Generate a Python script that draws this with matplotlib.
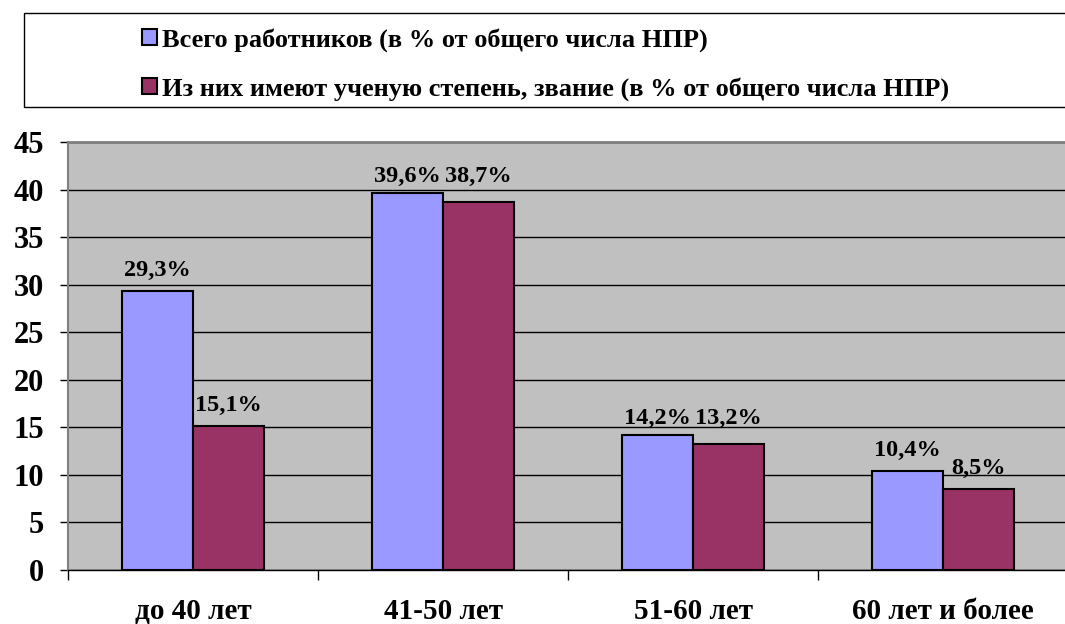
import numpy as np
import matplotlib
matplotlib.use("Agg")
import matplotlib.pyplot as plt
from matplotlib.patches import Rectangle, Patch

categories = ["до 40 лет", "41-50 лет", "51-60 лет", "60 лет и более"]
total_pct = [29.3, 39.6, 14.2, 10.4]
degree_pct = [15.1, 38.7, 13.2, 8.5]
series_names = ["Всего работников (в % от общего числа НПР)",
                "Из них имеют ученую степень, звание (в % от общего числа НПР)"]
yticks = [0, 5, 10, 15, 20, 25, 30, 35, 40, 45]

plt.rcParams['font.family'] = ['Liberation Serif', 'DejaVu Serif']
plt.rcParams['font.weight'] = 'bold'

fig = plt.figure(figsize=(10.65, 6.24), dpi=100)
ax = fig.add_axes([68 / 1065, 54 / 624, 1000 / 1065, 428 / 624])
ax.set_facecolor("#C0C0C0")

x = np.arange(len(categories))
w = 0.2857
c1, c2 = "#9999FF", "#993366"
b1 = ax.bar(x - w / 2, total_pct, w, color=c1, edgecolor="black", linewidth=1.5, zorder=3)
b2 = ax.bar(x + w / 2, degree_pct, w, color=c2, edgecolor="black", linewidth=1.5, zorder=3)

# labels: when the two bars of a group are close, put both labels on one line
for i in range(len(categories)):
    a, b = total_pct[i], degree_pct[i]
    ya, yb = (a, b) if abs(a - b) > 1.5 else ((a + b) / 2, (a + b) / 2)
    for r, v, yy in ((b1[i], a, ya), (b2[i], b, yb)):
        ax.annotate(f"{v:.1f}%".replace(".", ","),
                    (r.get_x() + r.get_width() / 2, yy),
                    xytext=(0, 11), textcoords="offset points",
                    ha="center", va="baseline", fontsize=17.5, fontweight="bold")

ax.set_xlim(-0.5, len(categories) - 0.5)
ax.set_ylim(0, 45)
ax.set_yticks(yticks)
ax.set_yticklabels([str(t) for t in yticks], fontsize=22, fontweight="bold")
ax.yaxis.grid(True, color="black", linewidth=1)
ax.set_axisbelow(True)
ax.tick_params(axis="y", length=6, width=1, pad=11, direction="out")

ax.set_xticks(x)
ax.set_xticklabels(categories, fontsize=21, fontweight="bold")
ax.set_xticks(np.arange(len(categories) + 1) - 0.5, minor=True)
ax.tick_params(axis="x", which="major", length=0, pad=20)
ax.tick_params(axis="x", which="minor", length=7, width=1, direction="out")

for s in ("top", "right"):
    ax.spines[s].set_color("#808080")
    ax.spines[s].set_linewidth(2)
ax.spines["left"].set_color("#808080")
ax.spines["left"].set_linewidth(1.5)
ax.spines["bottom"].set_color("black")
ax.spines["bottom"].set_linewidth(1)

# legend box across the top
fig.patches.append(Rectangle((24 / 1065, 1 - 107 / 624), 1.0, 94 / 624,
                             transform=fig.transFigure, facecolor="white",
                             edgecolor="black", linewidth=1))
handles = [Patch(facecolor=c1, edgecolor="black", linewidth=1.5),
           Patch(facecolor=c2, edgecolor="black", linewidth=1.5)]
fig.legend(handles, series_names, loc="upper left",
           bbox_to_anchor=(142 / 1065, 1 - 28 / 624), frameon=False,
           prop={"size": 19, "weight": "bold"}, handlelength=0.55,
           handleheight=0.55, handletextpad=0.2, labelspacing=0.95,
           borderpad=0, borderaxespad=0)

fig.savefig("out.png", dpi=100)
